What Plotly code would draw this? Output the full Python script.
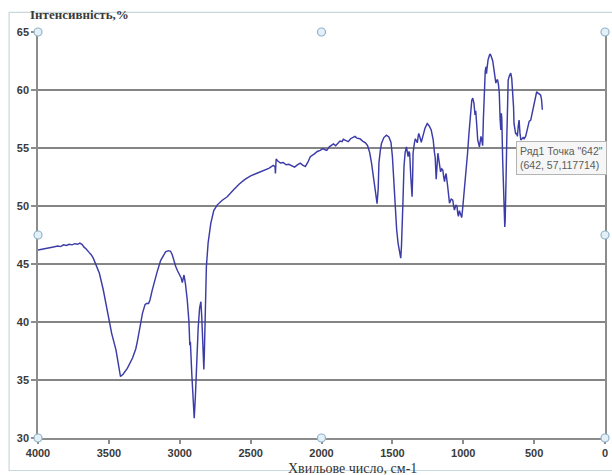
import plotly.graph_objects as go

# IR spectrum: wavenumber (cm-1) and transmittance intensity (%)
wavenumber = [
    4000, 3950, 3900, 3860, 3840, 3820, 3800, 3780, 3760, 3740, 3720, 3705, 3690, 3675,
    3660, 3640, 3625, 3610, 3600, 3585, 3567, 3540, 3509, 3480, 3450, 3430, 3418, 3400,
    3370, 3333, 3310, 3298, 3280, 3263, 3245, 3235, 3220, 3210, 3195, 3181, 3160, 3135,
    3115, 3100, 3080, 3065, 3053, 3040, 3029, 3015, 3000, 2990, 2982, 2975, 2970, 2960,
    2947, 2935, 2929, 2925, 2915, 2905, 2898, 2890, 2880, 2870, 2860, 2851, 2845, 2838,
    2830, 2826, 2820, 2812, 2800, 2790, 2781, 2760, 2735, 2700, 2665, 2620, 2580, 2540,
    2500, 2460, 2420, 2372, 2340, 2328, 2325, 2320, 2310, 2290, 2270, 2250, 2230, 2208,
    2190, 2170, 2150, 2130, 2114, 2095, 2079, 2050, 2030, 2009, 1990, 1975, 1963, 1945,
    1930, 1916, 1900, 1885, 1870, 1855, 1846, 1830, 1811, 1795, 1780, 1764, 1750, 1729,
    1710, 1690, 1675, 1660, 1647, 1630, 1618, 1608, 1600, 1595, 1585, 1577, 1560, 1542,
    1525, 1510, 1500, 1492, 1483, 1470, 1460, 1450, 1441, 1436, 1432, 1425, 1418, 1410,
    1401, 1395, 1389, 1383, 1378, 1370, 1361, 1357, 1354, 1345, 1338, 1330, 1324, 1318,
    1314, 1305, 1296, 1285, 1270, 1254, 1240, 1226, 1212, 1203, 1198, 1191, 1186, 1179,
    1170, 1160, 1152, 1144, 1138, 1132, 1126, 1121, 1110, 1097, 1085, 1074, 1068, 1062,
    1052, 1044, 1038, 1034, 1027, 1020, 1015, 1011, 1004, 997, 988, 980, 970, 960,
    950, 945, 940, 933, 925, 917, 912, 905, 898, 886, 880, 875, 868, 863,
    858, 851, 845, 840, 836, 833, 825, 815, 809, 800, 792, 786, 778, 770,
    765, 758, 752, 746, 740, 735, 731, 728, 722, 716, 710, 707, 704, 700,
    697, 693, 688, 683, 675, 665, 658, 653, 645, 642, 636, 630, 624, 618,
    612, 606, 600, 594, 585, 578, 571, 560, 548, 535, 524, 512, 500, 490,
    482, 475, 465, 458, 454, 448, 442,
]
intensity = [
    46.2, 46.3, 46.45, 46.55, 46.5, 46.65, 46.6, 46.7, 46.65, 46.75, 46.7, 46.8, 46.7, 46.45,
    46.3, 46.0, 45.8, 45.5, 45.2, 44.8, 44.2, 42.8, 40.8, 39.0, 37.6, 36.2, 35.3, 35.5,
    36.0, 36.9, 37.7, 38.4, 39.7, 40.75, 41.5, 41.6, 41.6, 41.9, 42.7, 43.4, 44.3, 45.3,
    45.8, 46.05, 46.15, 46.1, 45.8, 45.2, 44.8, 44.4, 44.0, 43.8, 43.4, 43.7, 44.05, 43.3,
    41.9, 40.0, 38.0, 38.3, 35.5, 33.0, 31.7, 33.5, 36.8, 39.5, 41.2, 41.75, 40.5, 38.0,
    35.9, 37.5, 41.0, 44.8, 46.8, 47.9, 48.5, 49.6, 50.1, 50.5, 50.8, 51.4, 51.9, 52.3,
    52.6, 52.8, 53.0, 53.25, 53.5, 53.4, 52.8, 54.05, 53.9, 53.7, 53.75, 53.55, 53.6, 53.45,
    53.35, 53.55, 53.7, 53.5, 53.4, 53.8, 54.25, 54.5, 54.7, 54.8, 54.95, 54.85, 54.8, 55.1,
    55.25, 55.35, 55.2, 55.45, 55.6, 55.55, 55.75, 55.65, 55.55, 55.8, 55.9, 56.0, 55.85, 55.8,
    55.6, 55.45, 55.2, 54.6, 53.7, 52.2, 51.0, 50.2, 51.5, 53.7, 54.8, 55.4, 55.9, 56.1,
    55.95, 55.5, 54.3, 52.5, 50.5, 48.0, 46.8, 46.0, 45.5, 46.5, 47.65, 50.5, 53.4, 54.6,
    55.1, 54.6, 54.25, 54.7, 54.55, 52.5, 50.8, 52.5, 54.55, 55.4, 55.8, 55.6, 55.45, 56.0,
    56.25, 55.9, 55.5, 56.0, 56.7, 57.1, 56.9, 56.55, 55.7, 54.6, 54.2, 52.3, 53.8, 54.55,
    53.8, 52.95, 53.2, 53.1, 52.5, 52.1, 52.6, 52.8, 51.7, 50.25, 50.6, 50.5, 50.0, 49.65,
    50.1, 49.95, 49.3, 49.1, 49.6, 49.35, 49.1, 49.0, 49.8, 50.8, 51.5, 52.5, 54.5, 56.2,
    57.6, 58.3, 59.1, 59.3, 58.9, 57.85, 58.2, 57.0, 55.7, 55.1, 55.6, 56.0, 55.6, 55.2,
    57.5, 60.5, 61.6, 62.0, 61.4, 61.8, 62.6, 63.0, 63.1, 62.8, 62.5, 62.0, 61.2, 60.6,
    60.8, 60.9, 60.5, 59.8, 57.5, 56.55, 58.0, 57.5, 54.0, 51.5, 49.0, 48.2, 48.8, 50.5,
    53.0, 55.7, 58.5, 60.85, 61.2, 61.45, 61.0, 60.3, 58.5, 57.117714, 56.5, 56.2, 56.3, 56.0,
    56.9, 57.4, 56.3, 55.7, 55.8, 55.9, 55.8, 56.0, 56.6, 57.3, 57.4, 58.2, 58.85, 59.5,
    59.85, 59.75, 59.7, 59.6, 59.55, 59.2, 58.3,
]

x_ticks = [4000, 3500, 3000, 2500, 2000, 1500, 1000, 500, 0]
y_ticks = [30, 35, 40, 45, 50, 55, 60, 65]

# hovered point shown with the series tooltip
hover_x = 642
hover_y = 57.117714

fig = go.Figure()
fig.add_trace(go.Scatter(
    x=wavenumber, y=intensity, mode="lines",
    line=dict(color="#3c3ca8", width=1.45),
    name="Ряд1", showlegend=False,
))

tick_font = dict(family="Liberation Sans", size=11, color="#3a3a3a")

fig.update_xaxes(
    range=[x_ticks[0], x_ticks[-1]], tickvals=x_ticks, ticktext=[str(v) for v in x_ticks],
    showgrid=False, zeroline=False,
    showline=True, linecolor="#8c8c8c", linewidth=1.5,
    ticks="outside", ticklen=4, tickcolor="#8c8c8c", tickwidth=1.5,
    tickfont=dict(**tick_font, weight="bold"),
)
fig.update_yaxes(
    range=[y_ticks[0], y_ticks[-1]], tickvals=y_ticks, ticktext=[str(v) for v in y_ticks],
    showgrid=True, gridcolor="#858585", gridwidth=1.6, zeroline=False,
    showline=True, linecolor="#8c8c8c", linewidth=1.5, mirror=True,
    ticks="outside", ticklen=5, tickcolor="#8c8c8c", tickwidth=1.5,
    tickfont=dict(**tick_font, weight="bold"),
)

shapes = []
# outer chart frame
shapes.append(dict(type="rect", xref="paper", yref="paper",
                   x0=-0.0510, x1=1.06, y0=-0.0800, y1=1.0485,
                   line=dict(color="#c9d8dc", width=1.2), fillcolor="rgba(0,0,0,0)",
                   layer="below"))

# selection handles around the plot area
for hx in (0, 0.5, 1):
    for hy in (0, 0.5, 1):
        if hx == 0.5 and hy == 0.5:
            continue
        shapes.append(dict(type="circle", xref="x domain", yref="y domain",
                           xsizemode="pixel", ysizemode="pixel",
                           xanchor=hx, yanchor=hy, x0=-4, x1=4, y0=-4, y1=4,
                           line=dict(color="#8fb3c9", width=1.2), fillcolor="#e3f0f8"))

annotations = [
    dict(text="<b>Інтенсивність,%</b>", xref="paper", yref="paper",
         x=-0.0175, y=1.042, xanchor="left", yanchor="middle", showarrow=False,
         font=dict(family="Liberation Serif", size=13, color="#3a3a3a")),
    dict(text="Хвильове число, см-1", xref="paper", yref="paper",
         x=0.554, y=-0.0745, xanchor="center", yanchor="middle", showarrow=False,
         font=dict(family="Liberation Serif", size=14, color="#333333")),
    dict(text=f'Ряд1 Точка "{hover_x}"<br>({hover_x}, {str(hover_y).replace(".", ",")})',
         x=hover_x, y=hover_y, xref="x", yref="y",
         xanchor="left", yanchor="top", xshift=2, yshift=-18, showarrow=False,
         align="left", bgcolor="#f6f6f6", bordercolor="#b4b4b4", borderwidth=1, borderpad=3,
         font=dict(family="Liberation Sans", size=10.5, color="#5c5c5c")),
]

fig.update_layout(
    width=612, height=475,
    margin=dict(l=38, r=4, t=32, b=37),
    paper_bgcolor="white", plot_bgcolor="white",
    shapes=shapes, annotations=annotations,
    showlegend=False,
)

fig.write_html("out.html")
